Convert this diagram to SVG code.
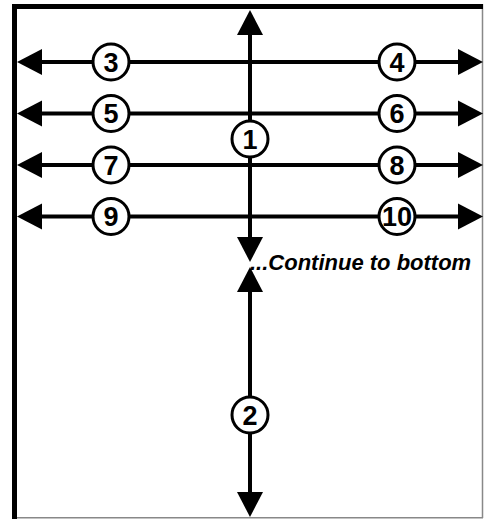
<svg xmlns="http://www.w3.org/2000/svg" width="485" height="519" viewBox="0 0 485 519">
<style>
.ln{stroke:#000;stroke-width:4;fill:none;marker-start:url(#ah);marker-end:url(#ah)}
.c{fill:#fff;stroke:#000;stroke-width:3}
.n{font-family:"Liberation Sans",Arial,sans-serif;font-weight:bold;font-size:27px;text-anchor:middle;fill:#000}
.note{font-family:"Liberation Sans",Arial,sans-serif;font-weight:bold;font-style:italic;font-size:22px;fill:#000}
</style>
<defs>
<marker id="ah" markerUnits="userSpaceOnUse" viewBox="0 0 25 28" markerWidth="25" markerHeight="28" refX="2" refY="14" orient="auto-start-reverse">
<path d="M0,1 L25,14 L0,27 Z" fill="#000"/>
</marker>
</defs>
<rect width="485" height="519" fill="#fff"/>
<g id="frame">
<line x1="482.5" y1="4" x2="482.5" y2="518" stroke="#888" stroke-width="1.5"/>
<line x1="12" y1="517.8" x2="483" y2="517.8" stroke="#888" stroke-width="1.5"/>
<rect x="12" y="4" width="471" height="5" fill="#000"/>
<rect x="12" y="4" width="5" height="515" fill="#000"/>
</g>
<g id="connectors">
<line class="ln" x1="40" y1="62" x2="460" y2="62"/>
<line class="ln" x1="40" y1="113.5" x2="460" y2="113.5"/>
<line class="ln" x1="40" y1="165" x2="460" y2="165"/>
<line class="ln" x1="40" y1="216.5" x2="460" y2="216.5"/>
<line class="ln" x1="250" y1="33" x2="250" y2="239"/>
<line class="ln" x1="250" y1="290" x2="250" y2="494"/>
</g>
<g id="n1"><circle class="c" cx="250" cy="139" r="18"/><text class="n" x="250" y="148.5">1</text></g>
<g id="n2"><circle class="c" cx="250" cy="415" r="18"/><text class="n" x="250" y="424.5">2</text></g>
<g id="n3"><circle class="c" cx="111" cy="62" r="18"/><text class="n" x="111" y="71.5">3</text></g>
<g id="n4"><circle class="c" cx="397" cy="62" r="18"/><text class="n" x="397" y="71.5">4</text></g>
<g id="n5"><circle class="c" cx="111" cy="113.5" r="18"/><text class="n" x="111" y="123">5</text></g>
<g id="n6"><circle class="c" cx="397" cy="113.5" r="18"/><text class="n" x="397" y="123">6</text></g>
<g id="n7"><circle class="c" cx="111" cy="165" r="18"/><text class="n" x="111" y="174.5">7</text></g>
<g id="n8"><circle class="c" cx="397" cy="165" r="18"/><text class="n" x="397" y="174.5">8</text></g>
<g id="n9"><circle class="c" cx="111" cy="216.5" r="18"/><text class="n" x="111" y="226">9</text></g>
<g id="n10"><circle class="c" cx="397" cy="216.5" r="18"/><text class="n" x="397" y="226">10</text></g>
<g id="note"><text class="note" x="250" y="270">...Continue to bottom</text></g>
</svg>
